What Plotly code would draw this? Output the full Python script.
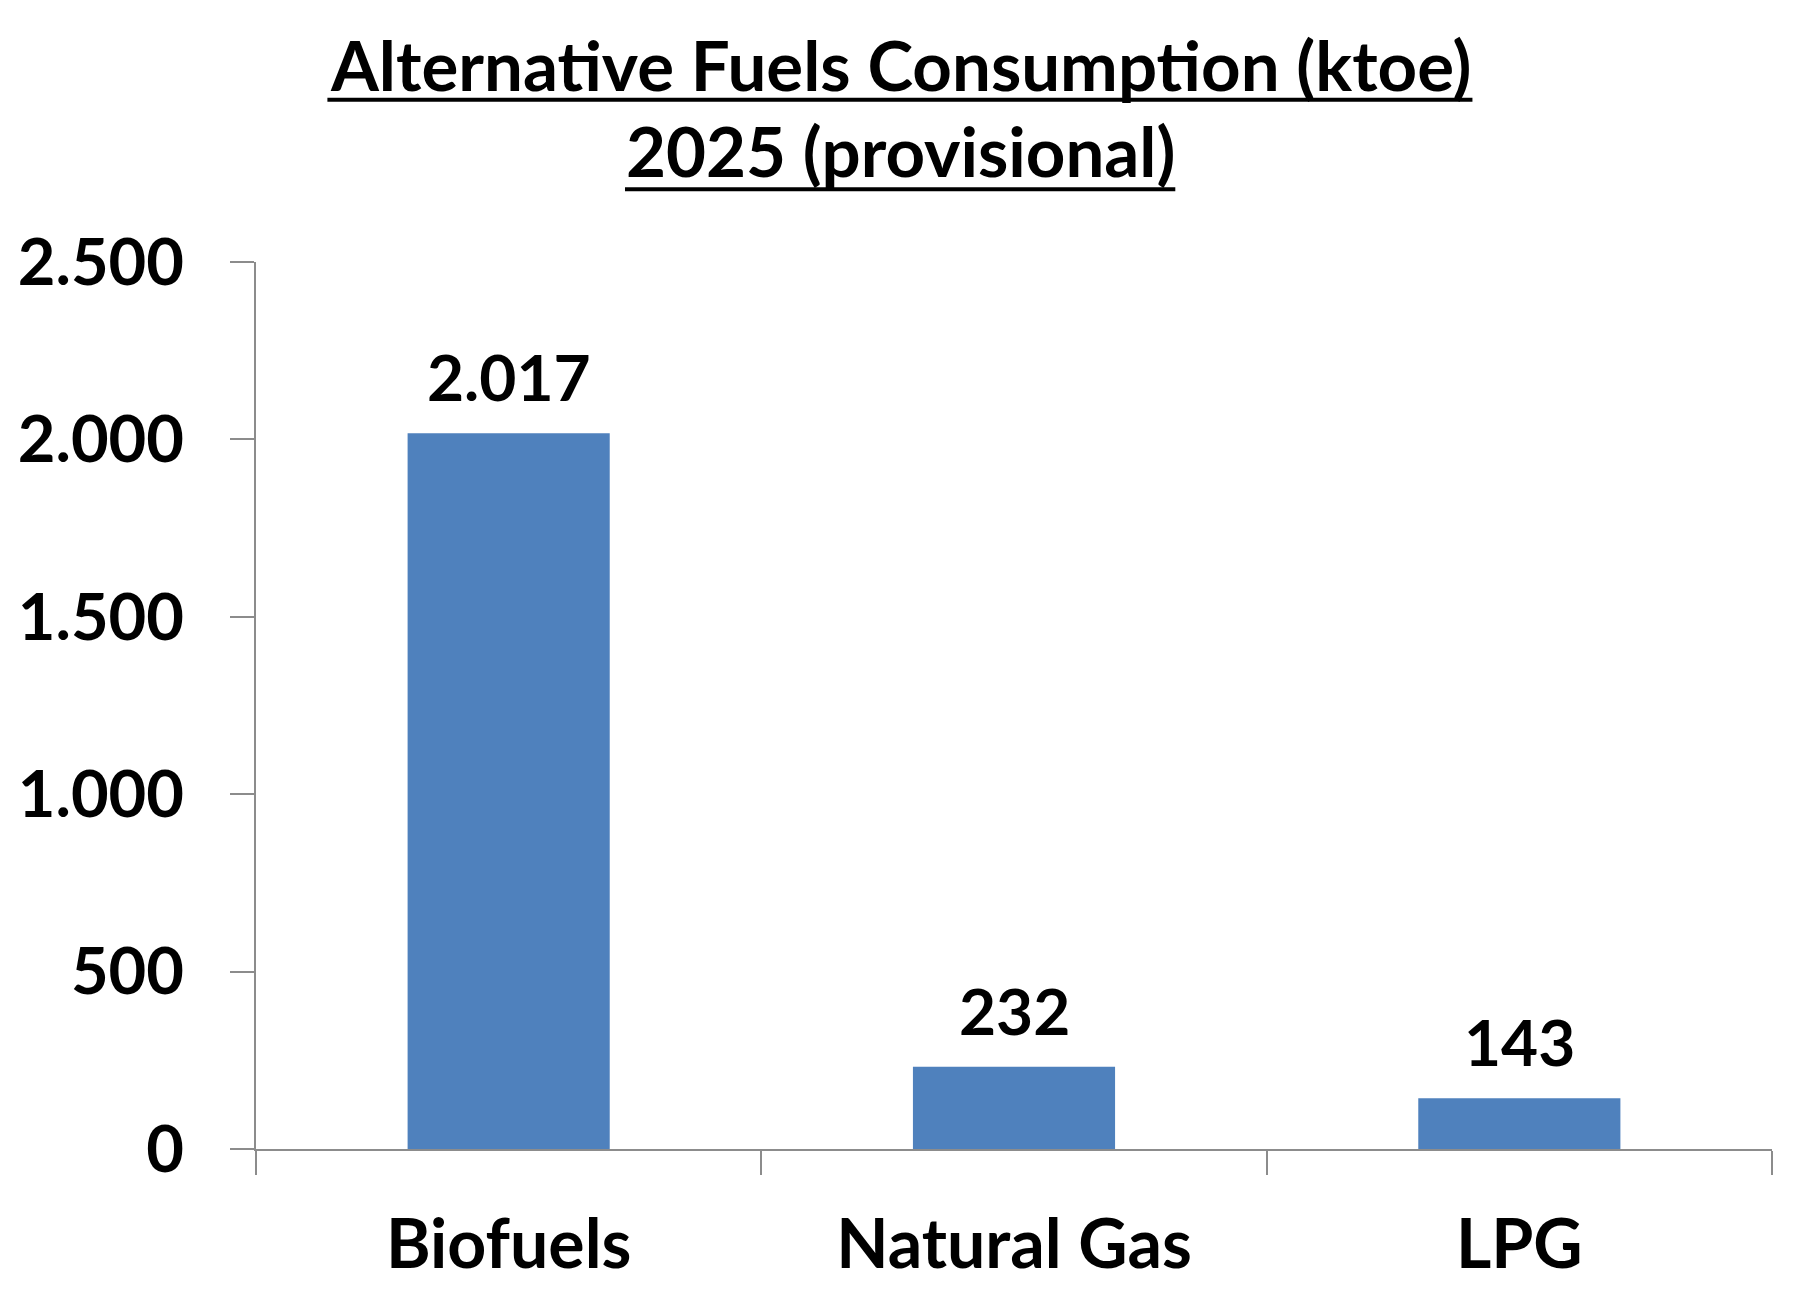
import plotly.graph_objects as go

# Alternative fuels consumption, 2025 provisional (ktoe)
categories = ['Biofuels', 'Natural Gas', 'LPG']
values = [2017, 232, 143]

y_ticks = [0, 500, 1000, 1500, 2000, 2500]
title_lines = ['Alternative Fuels Consumption (ktoe)', '2025 (provisional)']

FONT = 'Lato'
BLUE = '#4F81BD'
AXIS_GREY = '#8C8C8C'

# title placement (paper coords): text bottom y, underline y, underline x-span
title_y = [1.1737, 1.0764]
underline_y = [1.1830, 1.0820]
underline_x = [(0.0471, 0.8024), (0.2434, 0.6064)]
title_x = 0.4254

fig = go.Figure()

fig.add_trace(go.Bar(
    x=categories,
    y=values,
    marker=dict(color=BLUE, line=dict(width=0)),
    hoverinfo='x+y',
))

# value labels above each bar
for cat, val in zip(categories, values):
    fig.add_annotation(
        x=cat, y=val,
        text=f'{val:,}'.replace(',', '.'),
        showarrow=False,
        yanchor='bottom',
        yshift=16,
        font=dict(family=FONT, size=64, color='black', weight='bold'),
    )

# two-line underlined title
for line, ty, uy, (ux0, ux1) in zip(title_lines, title_y, underline_y, underline_x):
    fig.add_annotation(
        x=title_x, y=ty, xref='paper', yref='paper',
        xanchor='center', yanchor='bottom',
        text=line, showarrow=False,
        font=dict(family=FONT, size=69, color='black', weight='bold'),
    )
    fig.add_shape(
        type='line', xref='paper', yref='paper',
        x0=ux0, x1=ux1, y0=uy, y1=uy,
        line=dict(color='black', width=4),
    )

fig.update_layout(
    width=1802,
    height=1306,
    paper_bgcolor='white',
    plot_bgcolor='white',
    showlegend=False,
    bargap=0.6,
    separators=',.',
    margin=dict(l=248, r=38, t=254, b=165),
    xaxis=dict(
        automargin=False,
        showline=True, linecolor=AXIS_GREY, linewidth=2,
        ticks='outside', tickson='boundaries', ticklen=24,
        tickcolor=AXIS_GREY, tickwidth=2,
        ticklabelstandoff=35,
        tickfont=dict(family=FONT, size=68, color='black', weight='bold'),
        showgrid=False, zeroline=False,
    ),
    yaxis=dict(
        automargin=False,
        range=[0, 2500],
        tickvals=y_ticks,
        tickformat=',d',
        showline=True, linecolor=AXIS_GREY, linewidth=2,
        ticks='outside', ticklen=24,
        tickcolor=AXIS_GREY, tickwidth=2,
        ticklabelstandoff=33,
        tickfont=dict(family=FONT, size=65, color='black', weight='bold'),
        showgrid=False, zeroline=False,
    ),
)

fig.write_html('out.html')
